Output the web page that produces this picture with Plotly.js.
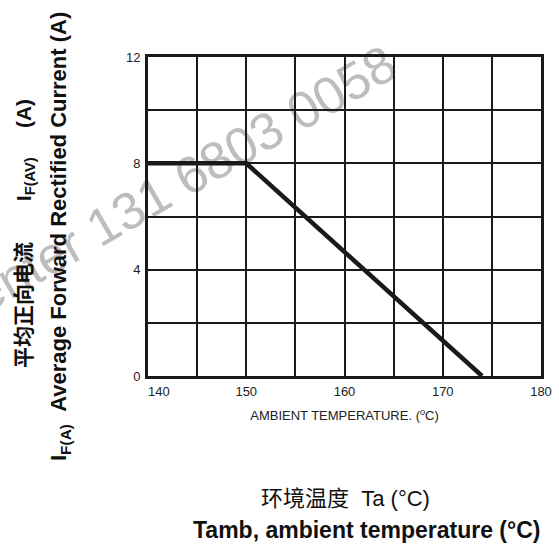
<!DOCTYPE html>
<html>
<head>
<meta charset="utf-8">
<script src="https://cdn.plot.ly/plotly-3.0.1.min.js"></script>
<style>html,body{margin:0;padding:0;background:#fff;}#chart{width:559px;height:551px;}</style>
</head>
<body>
<div id="chart"></div>
<script>
// Data
const temperature = [140, 150, 174];
const current = [8, 8, 0];
const xTickVals = [140, 150, 160, 170, 180];
const xTickText = ["\u2007\u2007\u2007140", "150", "160", "170", "180"];
const yTickVals = [0, 4, 8, 12];
const yTickText = ["0", "4", "8", "12"];

const W = 559, H = 551;
const M = {l: 148, r: 18, t: 57, b: 175};
const pw = W - M.l - M.r, ph = H - M.t - M.b;
const px = v => (v - M.l) / pw;
const py = v => (H - M.b - v) / ph;

const FONT = "Liberation Sans, Arial, Helvetica, sans-serif";
const CJK = "Liberation Sans, Arial, Noto Sans CJK SC, sans-serif";
const NB = n => "\u00a0".repeat(n);

const trace = {
  x: temperature, y: current, type: "scatter", mode: "lines",
  line: {color: "#1a1a1a", width: 4.5}, hoverinfo: "skip", showlegend: false
};

const wmX = 165, wmY = 184;

const layout = {
  width: W, height: H, margin: M,
  paper_bgcolor: "#fff", plot_bgcolor: "#fff",
  font: {family: FONT, color: "#222", size: 13},
  showlegend: false,
  xaxis: {
    range: [140, 180], tickvals: xTickVals, ticktext: xTickText,
    showgrid: true, gridcolor: "#1a1a1a", gridwidth: 2,
    minor: {dtick: 5, tick0: 140, showgrid: true, gridcolor: "#1a1a1a", gridwidth: 2},
    showline: true, linecolor: "#1a1a1a", linewidth: 3, mirror: true,
    ticks: "outside", ticklen: 1, tickcolor: "rgba(0,0,0,0)",
    zeroline: false, fixedrange: true,
    tickfont: {size: 13, color: "#222"},
    title: {text: "AMBIENT TEMPERATURE. (<sup>o</sup>C)", font: {size: 13, color: "#222"}, standoff: 14}
  },
  yaxis: {
    range: [0, 12], tickvals: yTickVals, ticktext: yTickText,
    showgrid: true, gridcolor: "#1a1a1a", gridwidth: 2,
    minor: {dtick: 2, tick0: 0, showgrid: true, gridcolor: "#1a1a1a", gridwidth: 2},
    showline: true, linecolor: "#1a1a1a", linewidth: 3, mirror: true,
    ticks: "outside", ticklen: 2, tickcolor: "rgba(0,0,0,0)",
    zeroline: false, fixedrange: true,
    tickfont: {size: 13, color: "#222"}
  },
  shapes: [
    {
      type: "rect", xref: "paper", yref: "paper", layer: "below",
      x0: px(wmX - 1), x1: px(wmX + 1), y0: py(wmY + 1), y1: py(wmY - 1),
      line: {width: 0, color: "rgba(0,0,0,0)"}, fillcolor: "rgba(0,0,0,0)",
      label: {
        text: "Center 131 6803 0058", textposition: "middle center", textangle: -30,
        font: {family: FONT, size: 52, color: "#bdbdbd"}
      }
    }
  ],
  annotations: [
    {
      text: "<b>平均正向电流" + NB(7) + "I<sub>F(AV)</sub>" + NB(5) + "(A)</b>",
      xref: "paper", yref: "paper", x: px(25), y: py(233),
      xanchor: "center", yanchor: "middle", textangle: -90, showarrow: false,
      font: {family: CJK, size: 21, color: "#111"}
    },
    {
      text: "<b>I<sub>F(A)</sub>" + NB(2) + "Average Forward Rectified Current (A)</b>",
      xref: "paper", yref: "paper", x: px(60), y: py(237),
      xanchor: "center", yanchor: "middle", textangle: -90, showarrow: false,
      font: {family: FONT, size: 22, color: "#111"}
    },
    {
      text: "环境温度" + NB(2) + "Ta (°C)",
      xref: "paper", yref: "paper", x: px(345), y: py(499),
      xanchor: "center", yanchor: "middle", showarrow: false,
      font: {family: CJK, size: 22, color: "#111"}
    },
    {
      text: "<b>Tamb, ambient temperature (°C)</b>",
      xref: "paper", yref: "paper", x: px(366), y: py(530),
      xanchor: "center", yanchor: "middle", showarrow: false,
      font: {family: FONT, size: 23, color: "#111"}
    }
  ]
};

Plotly.newPlot("chart", [trace], layout, {staticPlot: true, displayModeBar: false});
</script>
</body>
</html>
